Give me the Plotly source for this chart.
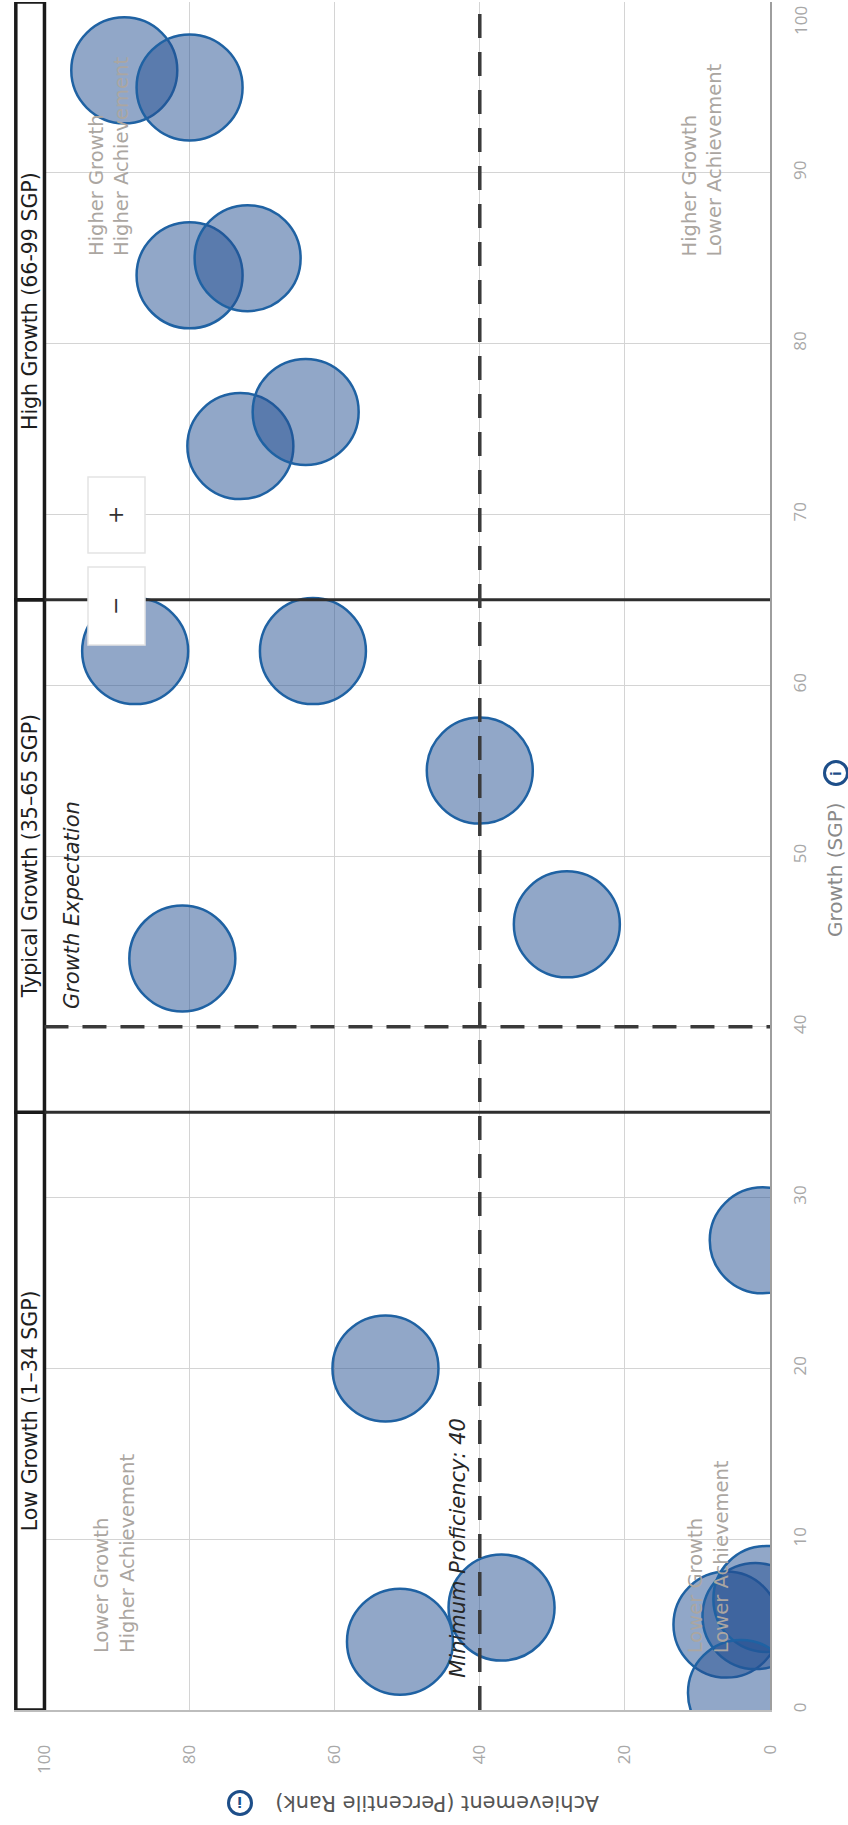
import plotly.graph_objects as go

# ---- data -------------------------------------------------------------
# one bubble per student: achievement percentile rank and growth percentile
achievement = [89, 80, 80, 72, 73, 64, 87.5, 63, 40, 28, 81, 1, 53, 51, 37, 6, 2, 0.5, 4]
growth = [96, 95, 84, 85, 74, 76, 62, 62, 55, 46, 44, 27.5, 20, 4, 6, 5, 5.5, 6.5, 1]

achievement_ticks = [0, 20, 40, 60, 80, 100]
growth_ticks = [0, 10, 20, 30, 40, 50, 60, 70, 80, 90]
growth_top_tick = 100

band_edges = [0, 35, 65, 100]
band_labels = ["Low Growth (1–34 SGP)", "Typical Growth (35–65 SGP)", "High Growth (66-99 SGP)"]

growth_expectation = 40
minimum_proficiency = 40

quadrant_text = [
    "Higher Growth<br>Higher Achievement",
    "Higher Growth<br>Lower Achievement",
    "Lower Growth<br>Higher Achievement",
    "Lower Growth<br>Lower Achievement",
]
quadrant_achievement = [91.2, 9.4, 90.4, 8.5]
quadrant_growth = [85, 85, 3.2, 3.2]

# ---- page geometry ----------------------------------------------------
W, H = 848, 1825
L, R, T, B = 14, 78, 2, 115
X_MAX = 104.2          # leaves room for the growth band header strip
BAND_X = (103.95, 100)
FONT = "DejaVu Sans"
TICK_FONT = "Open Sans"


def px_x(px):
    return (px - L) / (W - L - R)


def px_y(py):
    return 1 - (py - T) / (H - T - B)


fig = go.Figure()

fig.add_trace(go.Scatter(
    x=achievement,
    y=growth,
    mode="markers",
    marker=dict(size=106, color="rgba(35,79,145,0.5)",
                line=dict(color="#1f62a3", width=2.5)),
    hoverinfo="x+y",
    showlegend=False,
))

shapes = []

# band header boxes
for lo, hi in zip(band_edges[:-1], band_edges[1:]):
    shapes.append(dict(type="rect", xref="x", yref="y", x0=BAND_X[0], x1=BAND_X[1],
                       y0=lo, y1=hi, fillcolor="white",
                       line=dict(color="#1a1a1a", width=3.5), layer="above"))

# solid band boundaries across the plot
for edge in band_edges[1:-1]:
    shapes.append(dict(type="line", xref="x", yref="y", x0=100, x1=0, y0=edge, y1=edge,
                       line=dict(color="#2e2e2e", width=3), layer="above"))

# growth expectation and minimum proficiency
shapes.append(dict(type="line", xref="x", yref="y", x0=100, x1=0,
                   y0=growth_expectation, y1=growth_expectation,
                   line=dict(color="#3a3a3a", width=3.5, dash="24px,14px"), layer="above"))
shapes.append(dict(type="line", xref="x", yref="y", x0=minimum_proficiency, x1=minimum_proficiency,
                   y0=0, y1=100,
                   line=dict(color="#3a3a3a", width=3.5, dash="24px,14px"), layer="above"))

# zoom buttons
for top, bottom in [(477, 553), (567, 645)]:
    shapes.append(dict(type="rect", xref="paper", yref="paper",
                       x0=px_x(88), x1=px_x(145), y0=px_y(bottom), y1=px_y(top),
                       fillcolor="white", line=dict(color="#e4e4e4", width=1.5), layer="above"))

# info icons
for cx, cy in [(836, 773), (240, 1803)]:
    shapes.append(dict(type="circle", xref="paper", yref="paper",
                       xsizemode="pixel", ysizemode="pixel",
                       xanchor=px_x(cx), yanchor=px_y(cy),
                       x0=-11.5, x1=11.5, y0=-11.5, y1=11.5,
                       fillcolor="white", line=dict(color="#1d4e89", width=3), layer="above"))

annotations = []


def paper_note(px, py, text, angle, size, color, family=FONT, **kw):
    annotations.append(dict(x=px_x(px), y=px_y(py), xref="paper", yref="paper",
                            xanchor="center", yanchor="middle",
                            text=text, textangle=angle, showarrow=False,
                            font=dict(family=family, size=size, color=color), **kw))


for lo, hi, label in zip(band_edges[:-1], band_edges[1:], band_labels):
    annotations.append(dict(x=sum(BAND_X) / 2, y=(lo + hi) / 2, xref="x", yref="y",
                            xanchor="center", yanchor="middle",
                            text=label, textangle=-90, showarrow=False,
                            font=dict(family=FONT, size=20.5, color="#1e1e1e")))

annotations.append(dict(x=96.3, y=growth_expectation, xref="x", yref="y",
                        text="<i>Growth Expectation</i>", textangle=-90, showarrow=False,
                        xanchor="center", yanchor="bottom", yshift=16,
                        font=dict(family=FONT, size=21, color="#262626")))
annotations.append(dict(x=minimum_proficiency, y=0, xref="x", yref="y",
                        text="<i>Minimum Proficiency: 40</i>", textangle=-90, showarrow=False,
                        xanchor="right", xshift=-8, yanchor="bottom", yshift=30,
                        font=dict(family=FONT, size=21, color="#262626")))

for txt, a, g in zip(quadrant_text, quadrant_achievement, quadrant_growth):
    annotations.append(dict(x=a, y=g, xref="x", yref="y", text=txt, textangle=-90,
                            showarrow=False, align="left", xanchor="center", yanchor="bottom",
                            font=dict(family=FONT, size=19.5, color="#aba6a1")))

annotations.append(dict(x=1, y=growth_top_tick, xref="paper", yref="y", text=str(growth_top_tick),
                        textangle=-90, showarrow=False, xanchor="left", xshift=17,
                        yanchor="top", yshift=-2,
                        font=dict(family=TICK_FONT, size=17, color="#a8a8a8")))

# zoom button glyphs
paper_note(116, 515, "+", -90, 22, "#333333")
paper_note(116, 606, "−", -90, 22, "#333333")

# axis titles with their info marks
paper_note(835, 870, "Growth (SGP)", -90, 20, "#8a8a8a")
paper_note(836, 773, "<b>i</b>", -90, 14, "#1d4e89")
paper_note(437, 1803, "Achievement (Percentile Rank)", 180, 21, "#555555")
paper_note(240, 1802, "<b>i</b>", 180, 14, "#1d4e89")

fig.update_layout(
    width=W, height=H,
    margin=dict(l=L, r=R, t=T, b=B),
    paper_bgcolor="white", plot_bgcolor="white",
    shapes=shapes, annotations=annotations,
    showlegend=False,
    xaxis=dict(range=[X_MAX, 0], tickvals=achievement_ticks,
               ticktext=[str(v) for v in achievement_ticks],
               tickangle=-90, ticklabelstandoff=26,
               tickfont=dict(family=TICK_FONT, size=17, color="#a8a8a8"),
               showgrid=True, gridcolor="#d4d4d4", gridwidth=1, zeroline=False,
               showline=True, linecolor="#bdbdbd", linewidth=2, fixedrange=True),
    yaxis=dict(range=[0, 100], side="right", tickvals=growth_ticks,
               ticktext=[str(v) for v in growth_ticks],
               tickangle=-90, ticklabelstandoff=14,
               tickfont=dict(family=TICK_FONT, size=17, color="#a8a8a8"),
               showgrid=True, gridcolor="#d4d4d4", gridwidth=1, zeroline=False,
               showline=True, linecolor="#9e9e9e", linewidth=2, mirror=False,
               fixedrange=True),
)

fig.write_html("out.html")
